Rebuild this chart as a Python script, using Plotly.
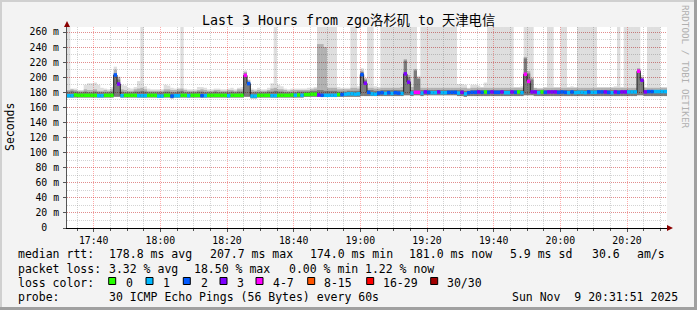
import plotly.graph_objects as go
import pandas as pd

# ---------------- data ----------------
START = "2025-11-09 17:32:00"
END = "2025-11-09 20:32:00"
times = pd.date_range(START, periods=180, freq="min")

median = [
    175.5, 175.5, 176.5, 176, 176, 176, 176, 176, 176, 175.5,
    175.5, 176, 176, 176, 203, 191, 175.5, 176, 176, 176,
    176, 175.5, 175.5, 175.5, 176, 176, 176, 175, 175, 176,
    176, 175, 175.5, 175.5, 176, 176, 175.5, 176, 176, 176,
    175.5, 175.5, 176, 176, 176, 176, 176, 176, 175.5, 176,
    176, 176, 176, 202.5, 191.5, 175, 175, 176, 176, 176,
    176, 175.5, 175.5, 176, 176, 176, 176, 176.5, 176, 176.5,
    176, 177, 177, 177.5, 177.5, 176.5, 176, 176, 176, 176,
    176, 177, 177, 177.5, 178, 178, 177.5, 178, 203.5, 192,
    180, 178, 177.5, 179, 179.5, 178.5, 179.5, 178.5, 179.5, 179,
    178.5, 204.5, 193.5, 179, 180, 180, 179, 180.5, 180, 179.5,
    179.5, 180.5, 179.5, 179.5, 180, 180, 180, 179, 180, 178,
    179.5, 180, 180, 180.5, 180, 180.5, 180, 180.5, 180, 180,
    180.5, 179.5, 179.5, 180.5, 180, 180.5, 179.5, 204, 194.5, 180.5,
    180.5, 179.5, 180.5, 180, 180.5, 180.5, 180.5, 180, 180.5, 180,
    179.5, 180.5, 179.5, 180, 180, 179.5, 180.5, 180, 180, 180.5,
    180.5, 180.5, 180, 179.5, 180.5, 180, 180.5, 180.5, 180.5, 180.5,
    180.5, 208, 196, 180.5, 181, 181, 181, 181, 181, 181,
]

# number of lost pings (of 30) per step
loss = [
    1, 1, 0, 0, 0, 0, 0, 0, 0, 1,
    1, 0, 0, 0, 2, 3, 1, 0, 0, 0,
    0, 1, 1, 1, 0, 0, 0, 1, 1, 0,
    0, 2, 1, 1, 0, 0, 1, 0, 0, 0,
    2, 1, 0, 0, 0, 0, 0, 0, 1, 0,
    0, 0, 0, 5, 2, 1, 1, 0, 0, 0,
    0, 1, 1, 0, 0, 0, 0, 0, 1, 0,
    1, 0, 0, 0, 0, 3, 2, 1, 1, 1,
    1, 0, 2, 1, 1, 1, 1, 1, 2, 3,
    2, 1, 1, 2, 2, 1, 2, 1, 2, 2,
    1, 3, 3, 1, 5, 5, 1, 3, 2, 1,
    1, 3, 1, 1, 2, 2, 2, 1, 3, 1,
    2, 2, 2, 3, 2, 0, 2, 3, 2, 2,
    3, 1, 1, 3, 2, 0, 1, 5, 5, 3,
    3, 1, 0, 2, 3, 3, 3, 2, 2, 2,
    1, 2, 1, 1, 1, 1, 2, 1, 1, 2,
    2, 3, 2, 1, 3, 2, 3, 3, 1, 1,
    1, 5, 3, 3, 2, 2, 1, 1, 1, 1,
]

smoke_min = [
    173, 173, 173, 173, 173, 173, 173, 173, 173, 173,
    173, 173, 173, 173, 174, 174, 173, 173, 173, 173,
    173, 173, 173, 173, 173, 173, 173, 173, 173, 173,
    173, 172, 173, 173, 173, 173, 173, 173, 173, 173,
    173, 173, 173, 173, 173, 173, 173, 173, 173, 173,
    173, 173, 173, 174, 174, 172, 172, 173, 173, 173,
    173, 173, 173, 173, 173, 173, 173, 173, 173, 173,
    173, 174, 174, 174, 174, 174, 174, 174, 174, 174,
    174, 174, 174, 174, 174, 174, 174, 174, 175, 175,
    175, 175, 175, 175, 175, 175, 175, 175, 175, 175,
    175, 176, 176, 175, 176, 176, 175, 176, 176, 176,
    176, 176, 176, 176, 176, 176, 176, 175, 175, 174,
    175, 175, 175, 175, 175, 175, 175, 175, 175, 175,
    175, 175, 175, 175, 175, 175, 175, 176, 176, 176,
    175, 175, 175, 175, 175, 175, 175, 175, 175, 175,
    175, 175, 175, 175, 175, 175, 175, 175, 175, 175,
    175, 175, 175, 175, 175, 175, 175, 175, 175, 175,
    175, 176, 176, 175, 175, 175, 175, 175, 175, 175,
]

smoke_dark = [
    181, 182, 181, 180, 180, 181, 180, 180, 181, 180,
    180, 180, 180, 181, 205, 197, 181, 180, 180, 180,
    181, 181, 182, 181, 180, 180, 180, 180, 180, 181,
    181, 180, 180, 181, 182, 180, 180, 180, 180, 181,
    181, 180, 180, 180, 181, 180, 180, 180, 180, 181,
    180, 181, 181, 205, 194, 180, 180, 180, 180, 180,
    181, 181, 182, 181, 181, 180, 180, 180, 180, 181,
    181, 181, 181, 182, 182, 183, 183, 182, 182, 182,
    182, 181, 181, 181, 182, 182, 182, 182, 207, 196,
    183, 183, 182, 182, 183, 183, 183, 183, 183, 183,
    183, 222, 200, 183, 209, 198, 183, 183, 183, 183,
    183, 183, 183, 183, 183, 183, 183, 183, 183, 182,
    182, 183, 183, 183, 183, 183, 183, 183, 183, 183,
    183, 183, 183, 183, 183, 183, 183, 225, 205, 197,
    183, 183, 183, 183, 183, 183, 183, 183, 183, 183,
    183, 183, 183, 183, 183, 183, 183, 183, 183, 183,
    183, 183, 183, 183, 183, 183, 183, 183, 183, 183,
    183, 210, 198, 183, 183, 183, 183, 183, 183, 183,
]

smoke_mid = [
    183, 184, 183, 182, 182, 184, 183, 183, 184, 182,
    182, 183, 182, 184, 210, 200, 184, 183, 182, 182,
    184, 185, 186, 184, 182, 182, 182, 182, 182, 184,
    184, 183, 183, 184, 185, 183, 182, 182, 182, 183,
    184, 183, 182, 182, 183, 183, 182, 182, 183, 183,
    182, 184, 184, 207, 196, 183, 182, 183, 182, 182,
    183, 185, 186, 184, 184, 183, 182, 183, 183, 183,
    183, 183, 183, 184, 185, 244, 244, 240, 186, 186,
    186, 184, 184, 184, 184, 186, 186, 185, 209, 198,
    186, 186, 185, 185, 186, 186, 186, 186, 186, 186,
    187, 224, 203, 187, 211, 200, 186, 186, 186, 186,
    186, 186, 186, 186, 186, 186, 186, 186, 186, 186,
    185, 186, 186, 186, 186, 186, 186, 186, 186, 186,
    186, 186, 186, 186, 186, 186, 186, 227, 208, 199,
    186, 185, 185, 186, 186, 186, 186, 186, 186, 186,
    186, 186, 186, 186, 186, 186, 186, 186, 186, 186,
    186, 186, 186, 186, 186, 186, 186, 186, 186, 186,
    186, 212, 200, 186, 186, 186, 186, 186, 186, 186,
]

smoke_max = [
    267, 185, 185, 183, 183, 190, 192, 192, 193, 190,
    186, 185, 184, 187, 214, 201, 190, 189, 186, 185,
    187, 195, 267, 188, 185, 184, 184, 184, 184, 190,
    189, 186, 185, 186, 267, 185, 184, 184, 184, 187,
    187, 186, 184, 184, 185, 185, 184, 184, 185, 186,
    184, 186, 187, 209, 197, 185, 184, 186, 184, 184,
    186, 192, 267, 190, 188, 185, 184, 185, 185, 185,
    185, 185, 186, 186, 187, 267, 267, 267, 267, 267,
    267, 187, 186, 186, 186, 267, 267, 188, 212, 199,
    267, 267, 188, 187, 267, 267, 267, 267, 267, 267,
    267, 267, 267, 267, 267, 202, 267, 267, 267, 267,
    267, 267, 267, 267, 267, 267, 267, 191, 191, 190,
    186, 190, 190, 189, 187, 193, 267, 267, 267, 267,
    267, 267, 267, 267, 187, 187, 188, 267, 267, 267,
    186, 186, 186, 187, 267, 267, 187, 187, 267, 267,
    187, 188, 187, 267, 267, 267, 267, 267, 267, 187,
    187, 187, 187, 187, 188, 267, 187, 267, 267, 267,
    267, 267, 203, 187, 267, 267, 267, 267, 187, 187,
]

loss_labels = ["0", "1", "2", "3", "4-7", "8-15", "16-29", "30/30"]
loss_colors = ["#26ff00", "#00b8ff", "#0059ff", "#7e00ff",
               "#ff00ff", "#ff5500", "#ff0000", "#a10000"]

y_ticks = [0, 20, 40, 60, 80, 100, 120, 140, 160, 180, 200, 220, 240, 260]
y_labels = ["0\u00a0\u00a0"] + [f"{v} m" for v in y_ticks[1:]]

stats_rtt = ["178.8 ms avg", "207.7 ms max", "174.0 ms min", "181.0 ms now", "5.9 ms sd", "30.6", "am/s"]
stats_loss = ["3.32 % avg", "18.50 % max", "0.00 % min", "1.22 % now"]

TITLE = "Last 3 Hours from zgo洛杉矶 to 天津电信"
PROBE = "30 ICMP Echo Pings (56 Bytes) every 60s"
STAMP = "Sun Nov\u00a0\u00a09 20:31:51 2025"

# ---------------- helpers ----------------
W, H = 697, 310
L, R, T, B = 67, 30, 27, 82
PW, PH = W - L - R, H - T - B


def px(x):
    return (x - L) / PW


def py(y):
    return (H - B - y) / PH


def loss_class(n):
    if n <= 3:
        return n
    if n <= 7:
        return 4
    if n <= 15:
        return 5
    if n <= 29:
        return 6
    return 7


MONO = "DejaVu Sans Mono"
STEP_MS = 60000

fig = go.Figure()

# smoke layers
for top, col in [(smoke_max, "rgba(0,0,0,0.13)"),
                 (smoke_mid, "rgba(0,0,0,0.20)"),
                 (smoke_dark, "rgba(0,0,0,0.30)")]:
    fig.add_trace(go.Bar(
        x=times, base=smoke_min,
        y=[t - b for t, b in zip(top, smoke_min)],
        width=STEP_MS, offset=0,
        marker=dict(color=col, line=dict(width=0)),
        hoverinfo="skip",
    ))

# median black step line
end_t = pd.Timestamp(END)
fig.add_trace(go.Scatter(
    x=list(times) + [end_t], y=median + [median[-1]],
    mode="lines", line=dict(color="#202020", width=1, shape="hv"),
    hoverinfo="skip",
))

# coloured median blocks per loss class
for ci, col in enumerate(loss_colors):
    xs, ys = [], []
    for i, (t, m, n) in enumerate(zip(times, median, loss)):
        if loss_class(n) == ci:
            t1 = times[i + 1] if i + 1 < len(times) else end_t
            xs += [t, t1, None]
            ys += [m, m, None]
    if xs:
        fig.add_trace(go.Scatter(
            x=xs, y=ys, mode="lines",
            line=dict(color=col, width=3.5),
            hoverinfo="skip",
        ))

MAJ = "rgba(255,0,0,0.33)"
MIN = "rgba(130,130,130,0.35)"

fig.update_layout(
    width=W, height=H,
    margin=dict(l=L, r=R, t=T, b=B),
    paper_bgcolor="#f3f3f3", plot_bgcolor="#ffffff",
    showlegend=False, barmode="overlay",
    font=dict(family=MONO, color="#000"),
    xaxis=dict(
        type="date", range=[START, END],
        tickmode="linear", tick0="2025-11-09 17:40:00", dtick=1200000,
        tickformat="%H:%M",
        showgrid=True, gridcolor=MAJ, gridwidth=1, griddash="1px,1px",
        minor=dict(tickmode="linear", tick0="2025-11-09 17:40:00", dtick=300000,
                   showgrid=True, gridcolor=MIN, gridwidth=1, griddash="1px,1px",
                   ticks="outside", ticklen=2, tickcolor="#555"),
        ticks="outside", ticklen=3, tickcolor="#555",
        showline=True, linecolor="#000", linewidth=1,
        zeroline=False,
        tickfont=dict(family=MONO, size=9.8, color="#000"),
        ticklabelstandoff=0,
    ),
    yaxis=dict(
        range=[0, PH / 0.7538],
        tickmode="array", tickvals=y_ticks, ticktext=y_labels,
        showgrid=True, gridcolor=MAJ, gridwidth=1, griddash="1px,1px",
        minor=dict(tickmode="linear", tick0=0, dtick=10,
                   showgrid=True, gridcolor=MIN, gridwidth=1, griddash="1px,1px"),
        ticks="outside", ticklen=3, tickcolor="#555",
        showline=True, linecolor="#555", linewidth=1,
        zeroline=False,
        tickfont=dict(family=MONO, size=9.8, color="#000"),
        ticklabelstandoff=2,
    ),
)

ann = []


def text(x, y, s, size=11.5, anchor="left", color="#000", angle=0, family=MONO):
    ann.append(dict(x=px(x), y=py(y), xref="paper", yref="paper", text=s,
                    showarrow=False, xanchor=anchor, yanchor="middle",
                    textangle=angle, font=dict(family=family, size=size, color=color)))


text(348.5, 20.5, TITLE, size=13.3, anchor="center",
     family="DejaVu Sans Mono, Noto Sans CJK SC")
text(10, 127, "Seconds", size=11.5, anchor="center", angle=-90)
text(686, 67, "RRDTOOL / TOBI OETIKER", size=9.3, anchor="center", angle=90, color="#b0b0b0")

row_y = [253.5, 268.5, 282.5, 296.5]
text(16, row_y[0], "median rtt:")
for xpos, s in zip([107.3, 207.7, 307.7, 407.3, 508, 590, 635], stats_rtt):
    text(xpos, row_y[0], s)
text(16, row_y[1], "packet loss:")
for xpos, s in zip([107.3, 192.3, 286.7, 363.3], stats_loss):
    text(xpos, row_y[1], s)
text(16, row_y[2], "loss color:")
box_x = [108.7, 146, 183.3, 220, 256, 307.7, 366.7, 430.7]
lab_x = [124, 161.3, 198.7, 235.3, 270.7, 321.7, 380.7, 445]
shapes = []
for bx, lx, lab, col in zip(box_x, lab_x, loss_labels, loss_colors):
    text(lx, row_y[2], lab)
    shapes.append(dict(type="rect", xref="paper", yref="paper",
                       x0=px(bx), x1=px(bx + 7), y0=py(284.5), y1=py(277.5),
                       fillcolor=col, line=dict(color="#000", width=1)))
text(16, row_y[3], "probe:")
text(107.3, row_y[3], PROBE)
text(680, row_y[3], STAMP, anchor="right")

# axis arrows (dark red)
shapes.append(dict(type="path", xref="paper", yref="paper",
                   path=f"M {px(64)},{py(27)} L {px(70)},{py(27)} L {px(67)},{py(21)} Z",
                   fillcolor="#8b0000", line=dict(width=0)))
shapes.append(dict(type="path", xref="paper", yref="paper",
                   path=f"M {px(667)},{py(225)} L {px(667)},{py(231)} L {px(673)},{py(228)} Z",
                   fillcolor="#8b0000", line=dict(width=0)))

# image frame (shaded border)
shapes.append(dict(type="rect", xref="paper", yref="paper", layer="above",
                   x0=px(0), x1=px(2), y0=py(310), y1=py(0), fillcolor="#d0d0d0", line=dict(width=0)))
shapes.append(dict(type="rect", xref="paper", yref="paper", layer="above",
                   x0=px(0), x1=px(697), y0=py(2), y1=py(0), fillcolor="#d0d0d0", line=dict(width=0)))
shapes.append(dict(type="rect", xref="paper", yref="paper", layer="above",
                   x0=px(694), x1=px(697), y0=py(310), y1=py(0), fillcolor="#a0a0a0", line=dict(width=0)))
shapes.append(dict(type="rect", xref="paper", yref="paper", layer="above",
                   x0=px(0), x1=px(697), y0=py(310), y1=py(307), fillcolor="#a0a0a0", line=dict(width=0)))

fig.update_layout(annotations=ann, shapes=shapes)
fig.write_html("out.html")
